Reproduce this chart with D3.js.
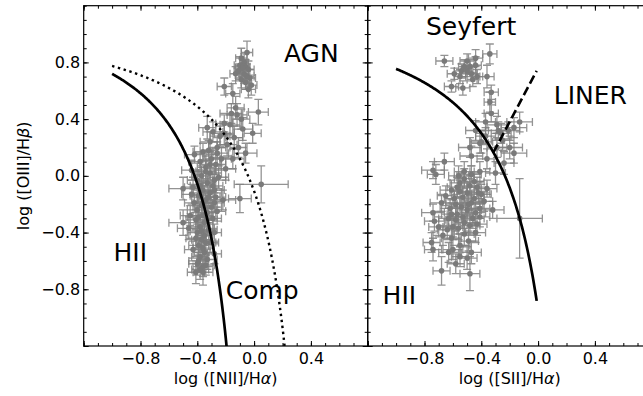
<!DOCTYPE html>
<html>
<head>
<meta charset="utf-8">
<script src="https://cdn.jsdelivr.net/npm/d3@7"></script>
<style>
  html, body { margin: 0; padding: 0; background: #fff; overflow: hidden; }
  svg { display: block; font-family: "DejaVu Sans", sans-serif; }
</style>
</head>
<body>
<div id="chart"></div>
<script>
// [x, y, xerr, yerr]
const niiPoints = [
    [-0.05, 0.87, 0.04, 0.08], [-0.09, 0.83, 0.04, 0.07], [-0.07, 0.80, 0.03, 0.06],
    [-0.10, 0.78, 0.04, 0.06], [-0.06, 0.77, 0.03, 0.05], [-0.08, 0.76, 0.05, 0.06],
    [-0.04, 0.75, 0.04, 0.06], [-0.13, 0.72, 0.04, 0.05], [-0.07, 0.72, 0.03, 0.07],
    [-0.05, 0.70, 0.05, 0.05], [-0.03, 0.69, 0.04, 0.06], [-0.09, 0.68, 0.04, 0.06],
    [-0.02, 0.64, 0.04, 0.07], [-0.04, 0.61, 0.05, 0.06], [-0.06, 0.66, 0.03, 0.05],
    [-0.21, 0.63, 0.05, 0.06], [-0.15, 0.58, 0.05, 0.07], [-0.11, 0.74, 0.03, 0.05],
    [0.03, 0.45, 0.07, 0.09], [-0.16, 0.44, 0.08, 0.07], [-0.12, 0.43, 0.07, 0.08],
    [-0.09, 0.40, 0.06, 0.07], [-0.21, 0.37, 0.06, 0.06], [-0.08, 0.33, 0.07, 0.08],
    [-0.01, 0.30, 0.06, 0.07], [-0.29, 0.31, 0.07, 0.07], [-0.33, 0.34, 0.06, 0.08],
    [-0.19, 0.22, 0.07, 0.08], [-0.26, 0.20, 0.06, 0.07], [-0.06, 0.16, 0.08, 0.07],
    [-0.36, 0.17, 0.07, 0.06], [-0.15, 0.12, 0.08, 0.07], [-0.24, 0.28, 0.07, 0.07],
    [-0.14, 0.27, 0.06, 0.08], [-0.31, 0.24, 0.07, 0.07], [-0.11, 0.20, 0.06, 0.07],
    [-0.20, 0.05, 0.07, 0.08], [0.05, -0.06, 0.19, 0.13], [-0.10, -0.16, 0.08, 0.10],
    [-0.22, -0.17, 0.09, 0.07], [-0.50, -0.09, 0.10, 0.08], [-0.50, -0.33, 0.10, 0.09],
    [-0.46, -0.37, 0.08, 0.08], [-0.42, 0.15, 0.07, 0.06], [-0.30, 0.12, 0.06, 0.07],
    [-0.38, 0.10, 0.08, 0.06], [-0.27, 0.08, 0.07, 0.07], [-0.34, 0.06, 0.06, 0.08],
    [-0.44, 0.04, 0.07, 0.07], [-0.31, 0.02, 0.08, 0.06], [-0.37, 0.00, 0.06, 0.07],
    [-0.25, -0.01, 0.07, 0.08], [-0.40, -0.03, 0.07, 0.06], [-0.33, -0.05, 0.06, 0.07],
    [-0.29, -0.07, 0.07, 0.08], [-0.43, -0.08, 0.06, 0.07], [-0.36, -0.10, 0.07, 0.06],
    [-0.31, -0.12, 0.08, 0.07], [-0.39, -0.14, 0.06, 0.08], [-0.27, -0.15, 0.07, 0.07],
    [-0.34, -0.17, 0.06, 0.06], [-0.42, -0.19, 0.07, 0.07], [-0.37, -0.21, 0.06, 0.08],
    [-0.30, -0.22, 0.07, 0.07], [-0.40, -0.24, 0.07, 0.06], [-0.33, -0.26, 0.06, 0.07],
    [-0.36, -0.28, 0.07, 0.08], [-0.29, -0.30, 0.06, 0.07], [-0.41, -0.31, 0.07, 0.07],
    [-0.35, -0.33, 0.06, 0.06], [-0.38, -0.36, 0.07, 0.08], [-0.32, -0.38, 0.06, 0.07],
    [-0.40, -0.40, 0.07, 0.06], [-0.35, -0.42, 0.06, 0.07], [-0.37, -0.45, 0.07, 0.08],
    [-0.31, -0.47, 0.06, 0.07], [-0.39, -0.49, 0.07, 0.07], [-0.43, -0.52, 0.06, 0.06],
    [-0.35, -0.54, 0.07, 0.08], [-0.38, -0.57, 0.06, 0.07], [-0.33, -0.59, 0.07, 0.07],
    [-0.40, -0.62, 0.06, 0.08], [-0.36, -0.64, 0.07, 0.07], [-0.38, -0.66, 0.06, 0.07],
    [-0.36, -0.68, 0.07, 0.09], [-0.28, -0.40, 0.05, 0.06], [-0.45, -0.28, 0.07, 0.07],
    [-0.32, 0.18, 0.06, 0.07], [-0.23, 0.12, 0.07, 0.08], [-0.28, -0.55, 0.05, 0.07],
    [-0.26, -0.25, 0.06, 0.07], [-0.34, 0.03, 0.07, 0.08], [-0.28, -0.03, 0.08, 0.07],
    [-0.38, -0.07, 0.07, 0.08], [-0.32, -0.15, 0.08, 0.07], [-0.36, -0.19, 0.07, 0.08],
    [-0.28, -0.19, 0.07, 0.07], [-0.39, -0.29, 0.08, 0.07], [-0.33, -0.31, 0.07, 0.08],
    [-0.37, -0.39, 0.08, 0.07], [-0.34, -0.47, 0.07, 0.08], [-0.41, -0.44, 0.07, 0.07],
    [-0.36, -0.51, 0.07, 0.07], [-0.39, -0.60, 0.07, 0.08], [-0.34, -0.63, 0.06, 0.07],
    [-0.41, -0.68, 0.06, 0.08], [-0.26, 0.16, 0.08, 0.08], [-0.21, 0.30, 0.07, 0.08],
    [-0.17, 0.36, 0.07, 0.07], [-0.13, 0.48, 0.06, 0.08], [-0.28, -0.10, 0.07, 0.07],
    [-0.44, -0.13, 0.07, 0.07], [-0.31, 0.08, 0.07, 0.07]
];

const siiPoints = [
    [-0.66, 0.81, 0.06, 0.04], [-0.34, 0.86, 0.05, 0.07], [-0.44, 0.83, 0.05, 0.06],
    [-0.50, 0.81, 0.05, 0.05], [-0.48, 0.77, 0.04, 0.05], [-0.44, 0.78, 0.04, 0.06],
    [-0.59, 0.72, 0.05, 0.04], [-0.54, 0.74, 0.05, 0.05], [-0.47, 0.72, 0.04, 0.05],
    [-0.43, 0.70, 0.04, 0.05], [-0.36, 0.70, 0.05, 0.08], [-0.53, 0.62, 0.05, 0.05],
    [-0.61, 0.63, 0.05, 0.04], [-0.33, 0.59, 0.05, 0.05], [-0.46, 0.68, 0.04, 0.05],
    [-0.55, 0.70, 0.04, 0.05], [-0.50, 0.74, 0.04, 0.04], [-0.52, 0.77, 0.04, 0.05],
    [-0.34, 0.52, 0.04, 0.07], [-0.33, 0.44, 0.05, 0.06], [-0.37, 0.38, 0.07, 0.06],
    [-0.13, 0.38, 0.09, 0.07], [-0.29, 0.36, 0.07, 0.06], [-0.44, 0.32, 0.07, 0.07],
    [-0.28, 0.32, 0.07, 0.06], [-0.21, 0.32, 0.08, 0.06], [-0.17, 0.34, 0.09, 0.07],
    [-0.25, 0.25, 0.08, 0.07], [-0.40, 0.24, 0.08, 0.08], [-0.48, 0.20, 0.08, 0.07],
    [-0.29, 0.20, 0.07, 0.07], [-0.20, 0.20, 0.09, 0.08], [-0.17, 0.16, 0.09, 0.07],
    [-0.47, 0.14, 0.08, 0.07], [-0.37, 0.28, 0.07, 0.06], [-0.41, 0.23, 0.06, 0.07],
    [-0.24, 0.09, 0.07, 0.08], [-0.30, 0.02, 0.07, 0.08], [-0.66, 0.10, 0.07, 0.06],
    [-0.74, 0.04, 0.08, 0.06], [-0.72, 0.01, 0.06, 0.07], [-0.52, 0.03, 0.07, 0.07],
    [-0.47, 0.01, 0.07, 0.06], [-0.41, 0.03, 0.07, 0.07], [-0.55, -0.05, 0.07, 0.07],
    [-0.61, -0.10, 0.08, 0.07], [-0.43, -0.08, 0.07, 0.07], [-0.36, -0.09, 0.07, 0.06],
    [-0.50, -0.12, 0.07, 0.07], [-0.68, -0.19, 0.08, 0.06], [-0.58, -0.20, 0.07, 0.07],
    [-0.47, -0.19, 0.08, 0.08], [-0.41, -0.23, 0.07, 0.07], [-0.32, -0.24, 0.08, 0.06],
    [-0.13, -0.30, 0.16, 0.28], [-0.74, -0.26, 0.08, 0.06], [-0.73, -0.32, 0.07, 0.07],
    [-0.63, -0.30, 0.07, 0.07], [-0.53, -0.29, 0.07, 0.08], [-0.41, -0.29, 0.07, 0.07],
    [-0.60, -0.36, 0.07, 0.07], [-0.56, -0.37, 0.07, 0.08], [-0.48, -0.35, 0.07, 0.07],
    [-0.67, -0.42, 0.07, 0.07], [-0.75, -0.47, 0.06, 0.07], [-0.61, -0.44, 0.07, 0.08],
    [-0.55, -0.49, 0.07, 0.08], [-0.74, -0.52, 0.06, 0.08], [-0.63, -0.54, 0.07, 0.07],
    [-0.60, -0.52, 0.07, 0.07], [-0.47, -0.54, 0.07, 0.08], [-0.55, -0.57, 0.06, 0.07],
    [-0.50, -0.58, 0.07, 0.08], [-0.58, -0.62, 0.06, 0.07], [-0.68, -0.67, 0.06, 0.10],
    [-0.48, -0.69, 0.07, 0.12], [-0.52, -0.02, 0.07, 0.07], [-0.45, -0.04, 0.07, 0.06],
    [-0.57, -0.08, 0.07, 0.07], [-0.48, -0.07, 0.07, 0.07], [-0.40, -0.13, 0.07, 0.07],
    [-0.53, -0.15, 0.06, 0.07], [-0.45, -0.16, 0.07, 0.08], [-0.62, -0.23, 0.07, 0.07],
    [-0.50, -0.24, 0.07, 0.07], [-0.44, -0.26, 0.07, 0.07], [-0.57, -0.27, 0.07, 0.07],
    [-0.52, -0.33, 0.07, 0.07], [-0.44, -0.40, 0.07, 0.07], [-0.65, -0.14, 0.06, 0.07],
    [-0.38, -0.18, 0.06, 0.07], [-0.59, -0.16, 0.07, 0.06], [-0.55, -0.11, 0.07, 0.08],
    [-0.49, -0.20, 0.08, 0.07], [-0.58, -0.31, 0.07, 0.08], [-0.46, -0.30, 0.08, 0.07],
    [-0.64, -0.38, 0.07, 0.07], [-0.52, -0.41, 0.07, 0.08], [-0.42, -0.12, 0.08, 0.07],
    [-0.54, -0.22, 0.07, 0.07], [-0.61, -0.27, 0.07, 0.08], [-0.49, -0.46, 0.07, 0.07],
    [-0.70, -0.36, 0.07, 0.07], [-0.43, -0.34, 0.07, 0.08], [-0.56, 0.00, 0.07, 0.07],
    [-0.36, 0.12, 0.07, 0.07], [-0.26, 0.30, 0.07, 0.07]
];

const xTickLabels = [-0.8, -0.4, 0.0, 0.4];
const yTickLabels = [0.8, 0.4, 0.0, -0.4, -0.8];
const majorTicks = [-1.2, -0.8, -0.4, 0.0, 0.4, 0.8];

// demarcation lines y = a / (x - b) + c, drawn between x0 and x1
const kauffmann03 = { a: 0.61, b: 0.05, c: 1.30, x0: -1.0, x1: -0.19 };
const kewleyNII = { a: 0.61, b: 0.47, c: 1.19, x0: -1.0, x1: 0.22 };
const kewleySII = { a: 0.72, b: 0.32, c: 1.30, x0: -1.0, x1: -0.01 };
// Seyfert / LINER line y = m x + k
const seyfertLiner = { m: 1.89, k: 0.76, x0: -0.315, x1: -0.01 };

const leftLabels = [
    { text: "AGN", x: 0.21, y: 0.80 },
    { text: "HII", x: -0.99, y: -0.60 },
    { text: "Comp", x: -0.20, y: -0.87 }
];
const rightLabels = [
    { text: "Seyfert", x: -0.79, y: 0.99 },
    { text: "LINER", x: 0.11, y: 0.505 },
    { text: "HII", x: -1.095, y: -0.905 }
];

document.addEventListener("DOMContentLoaded", function () {
    const width = 643, height = 396;
    const top = 5.7, bottom = 346;
    const panelW = 284;
    const panels = [
        { left: 83.7, points: niiPoints, curves: [
            { c: kauffmann03, dash: null },
            { c: kewleyNII, dash: "2.4,3.6" }
          ], labels: leftLabels, xlabel: "NII", yTicks: true },
        { left: 83.7 + panelW, points: siiPoints, curves: [
            { c: kewleySII, dash: null }
          ], labels: rightLabels, xlabel: "SII", yTicks: false, liner: true }
    ];

    const svg = d3.select("#chart").append("svg")
        .attr("width", width)
        .attr("height", height);

    svg.append("rect").attr("width", width).attr("height", height).attr("fill", "#fff");

    const y = d3.scaleLinear().domain([-1.2, 1.2]).range([bottom, top]);
    const fmt = d3.format(".1f");

    panels.forEach((p, i) => {
        const x = d3.scaleLinear().domain([-1.2, 0.8]).range([p.left, p.left + panelW]);
        const g = svg.append("g");

        const clipId = "clip" + i;
        svg.append("clipPath").attr("id", clipId)
            .append("rect")
            .attr("x", p.left).attr("y", top)
            .attr("width", panelW).attr("height", bottom - top);

        const plot = g.append("g").attr("clip-path", `url(#${clipId})`);

        // error bars
        const eb = plot.append("g")
            .attr("stroke", "#808080")
            .attr("stroke-opacity", 0.85)
            .attr("stroke-width", 1.3)
            .attr("fill", "none");
        const cap = 4;
        p.points.forEach(d => {
            const cx = x(d[0]), cy = y(d[1]);
            const xl = x(d[0] - d[2]), xr = x(d[0] + d[2]);
            const yt = y(d[1] + d[3]), yb = y(d[1] - d[3]);
            eb.append("path").attr("d",
                `M${xl},${cy}H${xr}M${cx},${yt}V${yb}` +
                `M${xl},${cy - cap}V${cy + cap}M${xr},${cy - cap}V${cy + cap}` +
                `M${cx - cap},${yt}H${cx + cap}M${cx - cap},${yb}H${cx + cap}`);
        });

        plot.append("g").selectAll("circle")
            .data(p.points)
            .enter()
            .append("circle")
            .attr("cx", d => x(d[0]))
            .attr("cy", d => y(d[1]))
            .attr("r", 2.8)
            .attr("fill", "#7a7a7a");

        // demarcation curves
        p.curves.forEach(cv => {
            const c = cv.c;
            const xs = d3.range(c.x0, c.x1, 0.005).concat([c.x1]);
            const line = d3.line()
                .x(v => x(v))
                .y(v => y(c.a / (v - c.b) + c.c));
            plot.append("path")
                .attr("d", line(xs))
                .attr("fill", "none")
                .attr("stroke", "#000")
                .attr("stroke-width", cv.dash ? 2.4 : 2.7)
                .attr("stroke-dasharray", cv.dash);
        });

        if (p.liner) {
            const s = seyfertLiner;
            plot.append("line")
                .attr("x1", x(s.x0)).attr("y1", y(s.m * s.x0 + s.k))
                .attr("x2", x(s.x1)).attr("y2", y(s.m * s.x1 + s.k))
                .attr("stroke", "#000")
                .attr("stroke-width", 2.6)
                .attr("stroke-dasharray", "9,4");
        }

        // region labels
        g.selectAll("text.region")
            .data(p.labels)
            .enter()
            .append("text")
            .attr("class", "region")
            .attr("x", d => x(d.x))
            .attr("y", d => y(d.y))
            .attr("font-size", 25)
            .attr("fill", "#000")
            .text(d => d.text);

        // axes with inward ticks
        const styleAxis = sel => {
            sel.select(".domain").remove();
            sel.selectAll(".tick line").attr("stroke", "#000").attr("stroke-width", 1);
            sel.selectAll("text").attr("font-size", 16).attr("fill", "#000")
                .attr("font-family", "DejaVu Sans, sans-serif");
        };

        const xMinor = x.ticks(20);
        const yMinor = y.ticks(24);

        // bottom
        g.append("g").attr("transform", `translate(0,${bottom})`)
            .call(d3.axisBottom(x).tickValues(xMinor).tickSizeInner(-3).tickSizeOuter(0).tickFormat(""))
            .call(styleAxis);
        g.append("g").attr("transform", `translate(0,${bottom})`)
            .call(d3.axisBottom(x).tickValues(majorTicks).tickSizeInner(-5).tickSizeOuter(0)
                .tickPadding(7)
                .tickFormat(v => xTickLabels.some(t => Math.abs(t - v) < 1e-9) ? fmt(v) : ""))
            .call(styleAxis);
        // top
        g.append("g").attr("transform", `translate(0,${top})`)
            .call(d3.axisTop(x).tickValues(xMinor).tickSizeInner(-3).tickSizeOuter(0).tickFormat(""))
            .call(styleAxis);
        g.append("g").attr("transform", `translate(0,${top})`)
            .call(d3.axisTop(x).tickValues(majorTicks).tickSizeInner(-5).tickSizeOuter(0).tickFormat(""))
            .call(styleAxis);
        // left
        g.append("g").attr("transform", `translate(${p.left},0)`)
            .call(d3.axisLeft(y).tickValues(yMinor).tickSizeInner(-3).tickSizeOuter(0).tickFormat(""))
            .call(styleAxis);
        g.append("g").attr("transform", `translate(${p.left},0)`)
            .call(d3.axisLeft(y).tickValues(majorTicks).tickSizeInner(-5).tickSizeOuter(0)
                .tickPadding(3.5)
                .tickFormat(v => p.yTicks && yTickLabels.some(t => Math.abs(t - v) < 1e-9) ? fmt(v) : ""))
            .call(styleAxis);
        // right
        g.append("g").attr("transform", `translate(${p.left + panelW},0)`)
            .call(d3.axisRight(y).tickValues(yMinor).tickSizeInner(-3).tickSizeOuter(0).tickFormat(""))
            .call(styleAxis);
        g.append("g").attr("transform", `translate(${p.left + panelW},0)`)
            .call(d3.axisRight(y).tickValues(majorTicks).tickSizeInner(-5).tickSizeOuter(0).tickFormat(""))
            .call(styleAxis);

        // frame
        g.append("rect")
            .attr("x", p.left).attr("y", top)
            .attr("width", panelW).attr("height", bottom - top)
            .attr("fill", "none")
            .attr("stroke", "#000")
            .attr("stroke-width", 1.2);

        // x label
        const xl = g.append("text")
            .attr("x", p.left + panelW / 2)
            .attr("y", 383.5)
            .attr("text-anchor", "middle")
            .attr("font-size", 16)
            .attr("fill", "#000");
        xl.append("tspan").text(`log ([${p.xlabel}]/H`);
        xl.append("tspan").attr("font-style", "italic").text("α");
        xl.append("tspan").text(")");
    });

    // y label
    const yl = svg.append("text")
        .attr("transform", `translate(28.5,${(top + bottom) / 2}) rotate(-90)`)
        .attr("text-anchor", "middle")
        .attr("font-size", 16)
        .attr("fill", "#000");
    yl.append("tspan").text("log ([OIII]/H");
    yl.append("tspan").attr("font-style", "italic").text("β");
    yl.append("tspan").text(")");
});
</script>
</body>
</html>
